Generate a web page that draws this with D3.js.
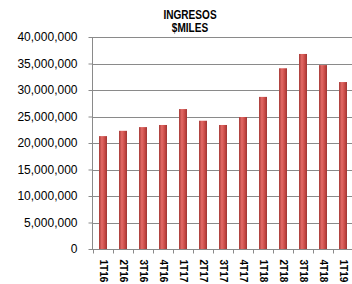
<!DOCTYPE html>
<html><head><meta charset="utf-8">
<script src="https://cdn.jsdelivr.net/npm/d3@7"></script>
<style>body{margin:0;background:#fff;}svg{display:block;}</style>
</head><body>
<svg id="c" width="352" height="284"></svg>
<script>
const categories = ["1T16","2T16","3T16","4T16","1T17","2T17","3T17","4T17","1T18","2T18","3T18","4T18","1T19"];
const values = [21300000,22300000,23000000,23400000,26400000,24200000,23400000,24900000,28700000,34100000,36800000,34700000,31500000];
const yTicks = [0,5000000,10000000,15000000,20000000,25000000,30000000,35000000,40000000];
const titleLines = ["INGRESOS","$MILES"];

const svg = d3.select("#c");
const x = d3.scaleBand().domain(categories).range([93,353]).paddingInner(0.6).paddingOuter(0.3);
const y = d3.scaleLinear().domain([0,40000000]).range([249,37]);

const defs = svg.append("defs");
const g = defs.append("linearGradient").attr("id","bar").attr("x1","0").attr("x2","1").attr("y1","0").attr("y2","0");
g.append("stop").attr("offset","0%").attr("stop-color","#a53b38");
g.append("stop").attr("offset","35%").attr("stop-color","#e36a66");
g.append("stop").attr("offset","70%").attr("stop-color","#c94b47");
g.append("stop").attr("offset","100%").attr("stop-color","#9e3532");

// gridlines
svg.append("g").selectAll("line").data(yTicks.filter(d=>d>0)).join("line")
  .attr("x1",92).attr("x2",352)
  .attr("y1",d=>Math.round(y(d))+0.5).attr("y2",d=>Math.round(y(d))+0.5)
  .attr("stroke","#8a8a8a").attr("stroke-width",1);

// y axis
const ya = svg.append("g").attr("transform","translate(92.5,0)")
  .call(d3.axisLeft(y).tickValues(yTicks).tickSize(4).tickPadding(11).tickFormat(d3.format(",")));
ya.select(".domain").attr("stroke","#8a8a8a").attr("d","M0,37.5V249.5");
ya.selectAll(".tick line").attr("stroke","#8a8a8a");
ya.selectAll(".tick text").attr("font-family","'Liberation Sans', Arial, sans-serif").attr("font-size","12px").attr("fill","#000");

// bars
svg.append("g").selectAll("rect").data(values).join("rect")
  .attr("x",(d,i)=>x(categories[i])).attr("width",x.bandwidth())
  .attr("y",d=>y(d)).attr("height",d=>249-y(d))
  .attr("fill","url(#bar)");

// x axis
const xa = svg.append("g").attr("transform","translate(0,249.5)");
xa.append("line").attr("x1",92).attr("x2",352).attr("stroke","#8a8a8a");
const bounds = categories.map((c,i)=>93+i*x.step());
xa.selectAll("line.t").data(bounds).join("line").attr("class","t")
  .attr("x1",d=>d+0.5).attr("x2",d=>d+0.5).attr("y1",0).attr("y2",4).attr("stroke","#8a8a8a");
xa.selectAll("text").data(categories).join("text")
  .attr("transform",d=>`translate(${x(d)+x.bandwidth()/2-3.5},10) rotate(90)`)
  .attr("text-anchor","start")
  .attr("font-family","'Liberation Sans', Arial, sans-serif").attr("font-weight","bold").attr("font-size","10px")
  .attr("fill","#000")
  .text(d=>d);

// title
svg.append("g").attr("transform","translate(190,0) scale(0.84,1)")
  .selectAll("text").data(titleLines).join("text")
  .attr("x",0).attr("y",(d,i)=>19+i*13.5).attr("text-anchor","middle")
  .attr("font-family","'Liberation Sans', Arial, sans-serif")
  .attr("font-weight","bold").attr("font-size","12px").text(d=>d);
</script>
</body></html>
